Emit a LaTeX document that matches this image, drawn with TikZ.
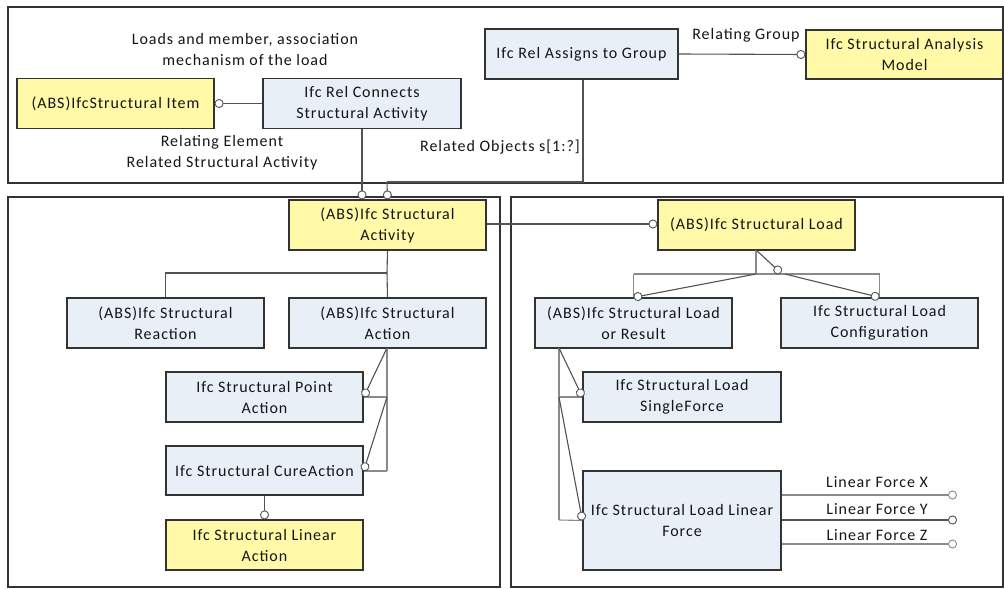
\documentclass[tikz,border=0pt]{standalone}
\usepackage{fontspec}
\setmainfont{Carlito}[LetterSpace=6]
\usetikzlibrary{arrows.meta}
\definecolor{ylw}{HTML}{FFF9A8}
\definecolor{blu}{HTML}{E9EFF7}
\definecolor{edge}{HTML}{333333}
\definecolor{txt}{HTML}{151515}
\definecolor{grayln}{HTML}{8A8A8A}
\begin{document}
\begin{tikzpicture}[x=1pt,y=-1pt,
  font=\fontsize{16}{21}\selectfont, text=txt,
  box/.style={draw=edge, line width=1.2pt, inner sep=0pt, align=center, minimum width=197pt, minimum height=50pt},
  ybox/.style={box, fill=ylw},
  bbox/.style={box, fill=blu},
  frame/.style={draw=edge, line width=1.4pt},
  conn/.style={draw=edge!85, line width=1.1pt},
  gconn/.style={draw=grayln, line width=1.1pt},
  oc/.style={-{Circle[fill=white,length=9pt,width=9pt,line width=0.9pt]}},
  lbl/.style={align=center, inner sep=0pt}
]
\useasboundingbox (0,0) rectangle (1004,589);
% frames
\draw[frame] (8,7) rectangle (1003,183);
\draw[frame] (8,197) rectangle (500,587);
\draw[frame] (511,197) rectangle (1003,587);

% top nodes
\node[ybox] (item) at (115.5,103.5) {(ABS)IfcStructural Item};
\node[bbox, minimum width=198pt] (relc) at (362,103.5) {Ifc Rel Connects\\Structural Activity};
\node[bbox, minimum width=193pt] (assign) at (581.5,54) {Ifc Rel Assigns to Group};
\node[ybox, minimum height=49pt] (model) at (904.5,54.5) {Ifc Structural Analysis\\Model};

% labels top
\node[lbl] (l1) at (245,50) {Loads and member, association\\mechanism of the load};
\node[lbl] (l2) at (222,153) {Relating Element\\Related Structural Activity};
\node[lbl] (l3) at (500,147) {Related Objects s[1:?]};
\node[lbl] (l4) at (746,35) {Relating Group};

% left frame nodes
\node[ybox] (act) at (387.5,225) {(ABS)Ifc Structural\\Activity};
\node[bbox] (reac) at (165.5,323) {(ABS)Ifc Structural\\Reaction};
\node[bbox] (action) at (387.5,323) {(ABS)Ifc Structural\\Action};
\node[bbox] (point) at (264.5,397) {Ifc Structural Point\\Action};
\node[bbox, minimum height=49pt] (cure) at (264.5,470.5) {Ifc Structural CureAction};
\node[ybox] (linact) at (264.5,545) {Ifc Structural Linear\\Action};

% right frame nodes
\node[ybox] (load) at (756.5,225) {(ABS)Ifc Structural Load};
\node[bbox] (lor) at (633.5,323) {(ABS)Ifc Structural Load\\or Result};
\node[bbox] (cfg) at (879.5,323) {Ifc Structural Load\\Configuration};
\node[bbox, minimum width=198pt] (single) at (682,397) {Ifc Structural Load\\SingleForce};
\node[bbox, minimum width=198pt, minimum height=99pt] (linf) at (682,520.5) {Ifc Structural Load Linear\\Force};

% top connectors
\draw[conn, oc] (relc.west) -- (item.east);
\draw[conn, oc] (assign.east) -- (model.west);
\draw[conn, oc] (relc.south) -- (relc.south |- act.north);
\coordinate (a2) at (583,182);
\coordinate (a3) at (387,182);
\draw[conn, line width=1.4pt] (assign.south -| a2) -- (a2) -- (a3);
\draw[conn, oc] (a3) -- (act.north);
\draw[conn, oc] (act.east |- 0,224) -- (load.west |- 0,224);

% activity tree
\coordinate (t1) at (387,273);
\coordinate (t2) at (165.5,273);
\draw[conn] (act.south) -- (t1) -- (action.north);
\draw[conn] (t1) -- (t2) -- (reac.north);

% action children
\coordinate (b0) at (387,348);
\coordinate (b1) at (387,397);
\coordinate (b2) at (387,471);
\draw[gconn] (b0) -- (b2);
\draw[gconn] (b1) -- (point.east);
\draw[gconn] (b2) -- (cure.east |- b2);
\draw[conn, oc] (b0) -- (point.east);
\draw[conn, oc] (b1) -- (cure.east |- b2);
\draw[conn, oc] (cure.south) -- (linact.north);

% load tree
\coordinate (c0) at (756,250);
\coordinate (c1) at (756,274);
\coordinate (cl) at (633.5,274);
\coordinate (cr) at (879.5,274);
\coordinate (cc) at (781,273);
\coordinate (cc2) at (785,274);
\draw[gconn] (c0) -- (c1);
\draw[gconn] (cl) -- (cr);
\draw[gconn] (cl) -- (lor.north);
\draw[gconn] (cr) -- (cfg.north);
\draw[conn, oc] (cc2) -- (cfg.north);
\draw[conn, oc] (c0) -- (cc);
\draw[conn, oc] (c1) -- (lor.north);

% load or result children
\coordinate (d0) at (559,348);
\coordinate (d1) at (559,397);
\coordinate (d2) at (559,520);
\draw[gconn] (d0) -- (d2);
\draw[gconn] (d1) -- (single.west);
\draw[gconn] (d2) -- (linf.west);
\draw[conn, oc] (d0) -- (single.west);
\draw[conn, oc] (d1) -- (linf.west);

% linear force outputs
\coordinate (fx) at (957,495);
\coordinate (fy) at (957,520);
\coordinate (fz) at (957,544);
\draw[gconn, oc] (linf.east |- fx) -- (fx);
\draw[conn, oc] (linf.east |- fy) -- (fy);
\draw[gconn, oc] (linf.east |- fz) -- (fz);
\node[lbl] (lx) at (877,482) {Linear Force X};
\node[lbl] (ly) at (877,509) {Linear Force Y};
\node[lbl] (lz) at (877,535) {Linear Force Z};
\end{tikzpicture}
\end{document}
